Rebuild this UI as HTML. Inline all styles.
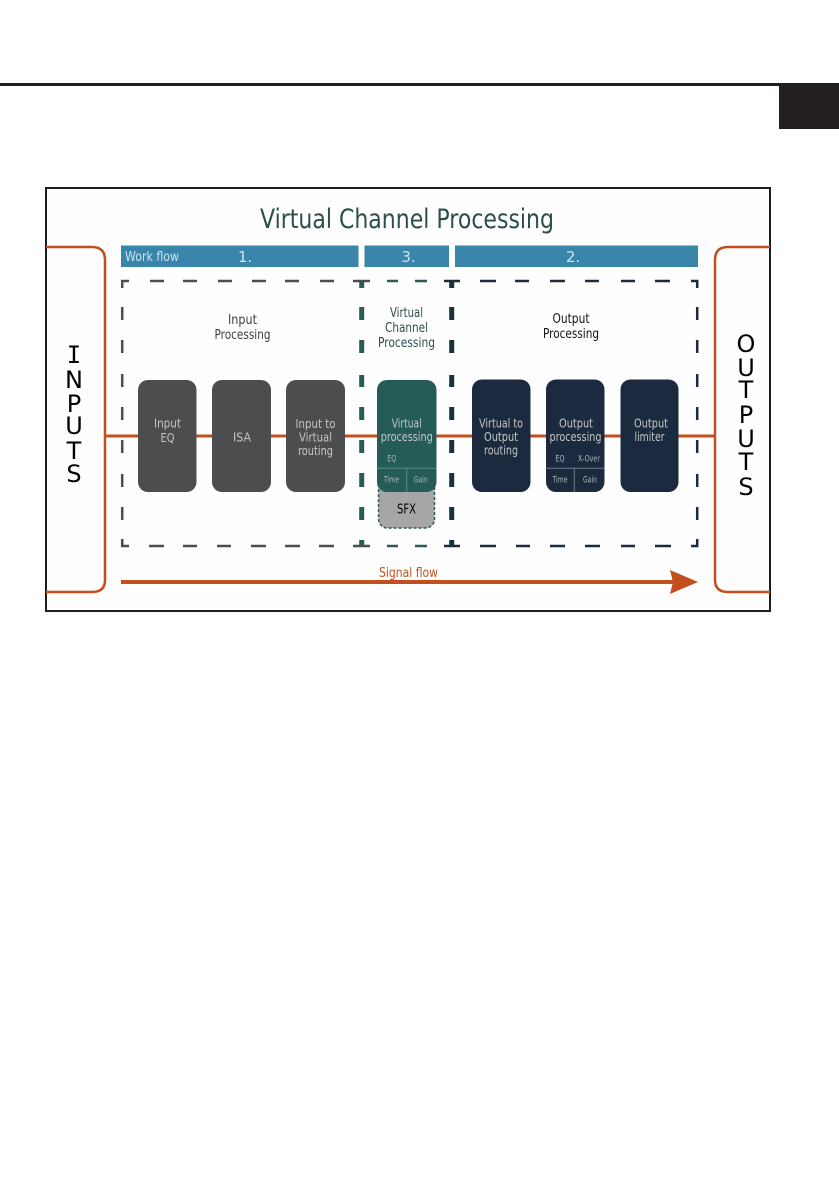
<!DOCTYPE html>
<html><head><meta charset="utf-8"><style>html,body{margin:0;padding:0;background:#fff}svg{display:block}text{font-family:"DejaVu Sans","Liberation Sans",sans-serif;text-anchor:middle}</style></head>
<body>
<svg width="839" height="1191" viewBox="0 0 839 1191" xmlns="http://www.w3.org/2000/svg">
<rect width="839" height="1191" fill="#fff"/>
<rect x="0" y="83" width="839" height="3" fill="#231f20"/>
<rect x="779" y="83" width="60" height="46" fill="#231f20"/>
<rect x="46" y="188" width="724" height="423" fill="#fefefe" stroke="#1d1d1f" stroke-width="2"/>
<text x="407" y="228" font-size="27" fill="#2a4f4c" textLength="294" lengthAdjust="spacingAndGlyphs">Virtual Channel Processing</text>
<g fill="#3a86ab"><rect x="121" y="245.5" width="237.5" height="21.5"/><rect x="364.5" y="245.5" width="84.5" height="21.5"/><rect x="455" y="245.5" width="243" height="21.5"/></g>
<g fill="#cfe3ee" font-size="15"><text x="152" y="261" font-size="13" textLength="54" lengthAdjust="spacingAndGlyphs">Work flow</text><text x="245" y="262">1.</text><text x="408.5" y="262">3.</text><text x="573" y="262">2.</text></g>
<g fill="none" stroke="#c2501f" stroke-width="2.5"><path d="M46 247H92Q105 247 105 260V580Q105 592 92 592H46"/><path d="M770 247H728Q715 247 715 260V580Q715 592 728 592H770"/></g>
<path d="M121 582H675" stroke="#c2501f" stroke-width="4"/><path d="M670 570L698 582L670 594L673 582Z" fill="#c2501f"/>
<text x="408.5" y="577" font-size="13" fill="#c2501f" textLength="59" lengthAdjust="spacingAndGlyphs">Signal flow</text>
<g fill="none" stroke="#4b4d4f" stroke-width="2.5">
<path d="M122.2 288V281H129M122.2 539V546H129M122.2 307v13M122.2 340v13M122.2 374v13M122.2 407v13M122.2 440v13M122.2 474v13M122.2 507v13"/>
<path d="M150 281h14M183 281h14M218 281h14M252 281h14M285 281h14M320 281h14M353 281h17M149 546h15M183 546h14M217 546h14M251 546h15M285 546h15M319 546h15M353 546h17"/></g>
<g fill="none" stroke="#2c5a56" stroke-width="5"><path d="M361.7 281v7M361.7 307v13M361.7 340v13M361.7 375v12M361.7 407v13M361.7 440v13M361.7 473v14M361.7 507v13M361.7 540v6"/></g>
<path d="M387 281h11M415 281h12M387 546h11M415 546h12" stroke="#2c5a56" stroke-width="2.5"/>
<g fill="none" stroke="#17323a" stroke-width="5"><path d="M451.7 281v7M451.7 307v13M451.7 340v13M451.7 375v12M451.7 407v13M451.7 440v13M451.7 473v14M451.7 507v13M451.7 540v6"/></g>
<g fill="none" stroke="#1b2a3e" stroke-width="2.5"><path d="M444 281h16M480 281h16M515 281h14M550 281h15M585 281h14M621 281h14M655 281h15M691 281H697.2V288M444 546h16M480 546h16M516 546h14M550 546h15M585 546h15M621 546h14M655 546h16M691 546H697.2V539"/>
<path d="M697.2 307v13M697.2 340v13M697.2 374v13M697.2 407v13M697.2 440v13M697.2 474v13M697.2 507v13"/></g>
<rect x="378.5" y="470" width="56" height="58" rx="9" fill="#a5a6a5" stroke="#2c5a56" stroke-width="1.5" stroke-dasharray="3 2"/>
<path d="M105 436H715" stroke="#c2501f" stroke-width="3"/>
<g fill="#4b4d4f"><rect x="138" y="380" width="58.5" height="112" rx="10"/><rect x="212" y="380" width="59" height="112" rx="10"/><rect x="286" y="380" width="59" height="112" rx="10"/></g>
<rect x="377" y="380" width="59.5" height="112" rx="10" fill="#255c58"/>
<g fill="#1b2a3e"><rect x="472" y="379.5" width="58.5" height="112.5" rx="10"/><rect x="546" y="379.5" width="58.5" height="112.5" rx="10"/><rect x="620.5" y="379.5" width="58" height="112.5" rx="10"/></g>
<path d="M377 468.3H436.5M406.7 468.3V492" stroke="#5d8a86" stroke-width="1" fill="none"/>
<path d="M546 468.3H604.5M574.3 468.3V492" stroke="#6d7a8a" stroke-width="1" fill="none"/>
<g font-size="13" fill="#3b3f40">
<text x="242.5" y="324" textLength="29" lengthAdjust="spacingAndGlyphs">Input</text><text x="242.5" y="339" textLength="56" lengthAdjust="spacingAndGlyphs">Processing</text>
<text x="406.5" y="317" fill="#2a4f4c" textLength="33" lengthAdjust="spacingAndGlyphs">Virtual</text><text x="406.5" y="332" fill="#2a4f4c" textLength="43" lengthAdjust="spacingAndGlyphs">Channel</text><text x="406.5" y="347" fill="#2a4f4c" textLength="57" lengthAdjust="spacingAndGlyphs">Processing</text>
<text x="571" y="323" fill="#111" textLength="37" lengthAdjust="spacingAndGlyphs">Output</text><text x="571" y="338" fill="#111" textLength="56" lengthAdjust="spacingAndGlyphs">Processing</text>
</g>
<g font-size="12" fill="#c3c7c7">
<text x="167.5" y="427.5" textLength="27" lengthAdjust="spacingAndGlyphs">Input</text><text x="167.5" y="442" textLength="14" lengthAdjust="spacingAndGlyphs">EQ</text>
<text x="242" y="441.5" textLength="18" lengthAdjust="spacingAndGlyphs">ISA</text>
<text x="315.5" y="428" textLength="40" lengthAdjust="spacingAndGlyphs">Input to</text><text x="315.5" y="441.5" textLength="33" lengthAdjust="spacingAndGlyphs">Virtual</text><text x="315.5" y="455" textLength="35" lengthAdjust="spacingAndGlyphs">routing</text>
<text x="406.7" y="427.5" textLength="30" lengthAdjust="spacingAndGlyphs">Virtual</text><text x="406.7" y="441" textLength="52" lengthAdjust="spacingAndGlyphs">processing</text>
<text x="501" y="427.5" textLength="44" lengthAdjust="spacingAndGlyphs">Virtual to</text><text x="501" y="441" textLength="34" lengthAdjust="spacingAndGlyphs">Output</text><text x="501" y="454.5" textLength="34" lengthAdjust="spacingAndGlyphs">routing</text>
<text x="576" y="427.5" textLength="34" lengthAdjust="spacingAndGlyphs">Output</text><text x="575.5" y="441" textLength="52" lengthAdjust="spacingAndGlyphs">processing</text>
<text x="651" y="427.5" textLength="34" lengthAdjust="spacingAndGlyphs">Output</text><text x="649.5" y="441" textLength="30" lengthAdjust="spacingAndGlyphs">limiter</text>
</g>
<g font-size="8.5" fill="#aab8b8">
<text x="391.7" y="461.5" textLength="9" lengthAdjust="spacingAndGlyphs">EQ</text><text x="391.5" y="482.5" textLength="15" lengthAdjust="spacingAndGlyphs">Time</text><text x="420.7" y="482.5" textLength="14" lengthAdjust="spacingAndGlyphs">Gain</text>
<text x="560" y="461.5" textLength="9" lengthAdjust="spacingAndGlyphs">EQ</text><text x="589" y="461.5" textLength="22" lengthAdjust="spacingAndGlyphs">X-Over</text><text x="560" y="482.5" textLength="15" lengthAdjust="spacingAndGlyphs">Time</text><text x="590" y="482.5" textLength="14" lengthAdjust="spacingAndGlyphs">Gain</text>
</g>
<text x="406.5" y="513.5" font-size="13" fill="#000" textLength="19" lengthAdjust="spacingAndGlyphs">SFX</text>
<g font-size="24" fill="#000">
<text x="74" y="363" style='font-family:"DejaVu Sans Mono","Liberation Mono",monospace'>I</text><text x="74" y="388">N</text><text x="74" y="412">P</text><text x="74" y="434">U</text><text x="74" y="459">T</text><text x="74" y="482">S</text>
<text x="746" y="352">O</text><text x="746" y="376">U</text><text x="746" y="398">T</text><text x="746" y="423">P</text><text x="746" y="447">U</text><text x="746" y="470">T</text><text x="746" y="495">S</text>
</g>
</svg>
</body></html>
